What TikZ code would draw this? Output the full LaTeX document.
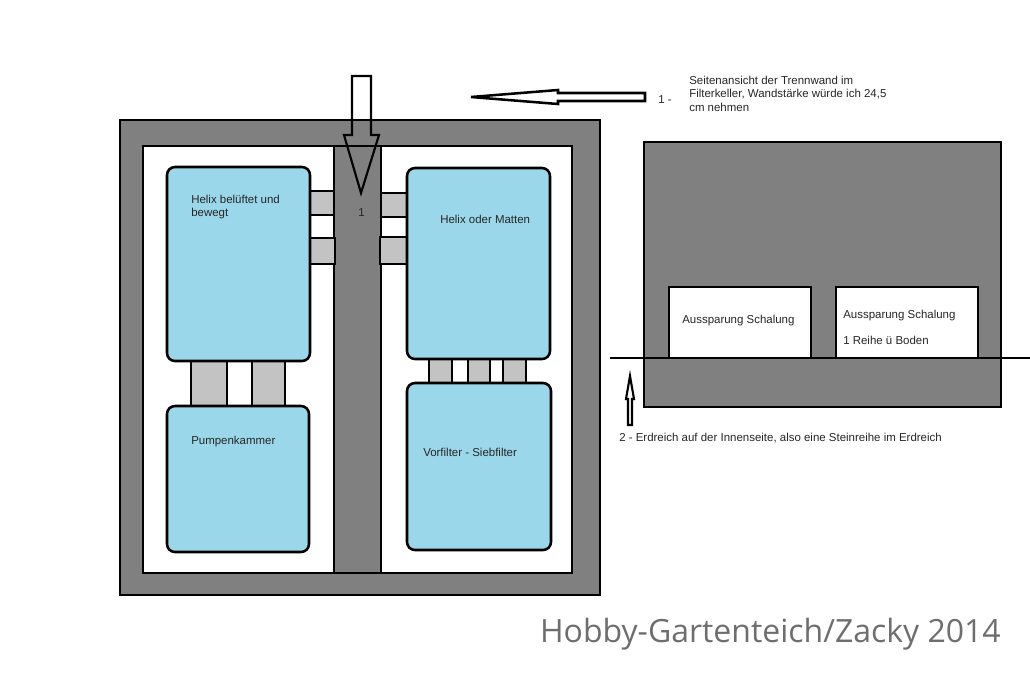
\documentclass[tikz,border=0pt]{standalone}
\usepackage{fontspec}
\setmainfont{Liberation Sans}
\newfontfamily\markfont{Open Sans}
\definecolor{wall}{HTML}{808080}
\definecolor{pipe}{HTML}{C3C3C3}
\definecolor{water}{HTML}{9BD7EA}
\definecolor{markgray}{HTML}{6E6E6E}
\begin{document}
\begin{tikzpicture}[
  x=0.75pt,y=-0.75pt,
  solid/.style={draw=black,line width=1.9pt,fill=#1},
  solid/.default=white,
  tank/.style={solid=water,rounded corners=6pt},
  blockarrow/.style={draw=black,line width=#1,line join=miter},
  blockarrow/.default=1.9pt,
  txt/.style={anchor=base west,inner sep=0pt,font=\fontsize{8.6}{10}\selectfont,text=black!85}
  ]
\useasboundingbox (0,0) rectangle (1030,683);
% top view
\draw[solid=wall] (120,120) rectangle (600,595);
\draw[solid]      (143,146) rectangle (572,573);
\draw[solid=wall] (334,146) rectangle (381,573);                   % partition
% pipes through the partition
\draw[solid=pipe] (310,191) rectangle (334,215);
\draw[solid=pipe] (310,238) rectangle (335,264);
\draw[solid=pipe] (381,193) rectangle (407,217);
\draw[solid=pipe] (380,237) rectangle (407,264);
% pipes between the chambers
\foreach \xa/\xb in {191/227,252/285}
  \draw[solid=pipe] (\xa,360) rectangle (\xb,406);
\foreach \xa/\xb in {429/452,468/490,503/526}
  \draw[solid=pipe] (\xa,358) rectangle (\xb,384);
% chambers
\draw[tank] (167,167) rectangle (310,361);
\draw[tank] (167,406) rectangle (309,552);
\draw[tank] (407,168) rectangle (550,359);
\draw[tank] (407,383) rectangle (551,550);
% arrow into the partition
\draw[blockarrow=1.6pt] (352,76) -- (371,76) -- (371,135) -- (379,135) -- (361,193)
  -- (344,135) -- (352,135) -- cycle;
\node[txt] (one) at (358,216) {1};
\node[txt] (chamberA) at (191,203) {Helix belüftet und};
\node[txt] (chamberAb) at (191,216) {bewegt};
\node[txt] (chamberB) at (440,223) {Helix oder Matten};
\node[txt] (chamberC) at (191,444) {Pumpenkammer};
\node[txt] (chamberD) at (423,456) {Vorfilter - Siebfilter};
% side view
\draw[solid=wall] (644,142) rectangle (1001,407);
\draw[solid] (669,287) rectangle (811,358);
\draw[solid] (836,287) rectangle (978,358);
\draw[line width=1.5pt] (610,358) -- (1030,358);                   % ground
\node[txt] (gapA) at (682,323) {Aussparung Schalung};
\node[txt] (gapB) at (843,318) {Aussparung Schalung};
\node[txt] (gapBb) at (843,344) {1 Reihe ü Boden};
% notes
\draw[blockarrow] (645,93) -- (558,93) -- (558,90) -- (471,97) -- (558,104)
  -- (558,101) -- (645,101) -- cycle;
\draw[blockarrow=1.6pt] (628,425) -- (628,399) -- (626,399) -- (630,376) -- (634,399)
  -- (632,399) -- (632,425) -- cycle;
\node[txt] (noteOne) at (658,103) {1 -};
\node[txt] (noteA) at (689,84) {Seitenansicht der Trennwand im};
\node[txt] (noteB) at (689,97) {Filterkeller, Wandstärke würde ich 24,5};
\node[txt] (noteC) at (689,111) {cm nehmen};
\node[txt] (noteTwo) at (619,441) {2 - Erdreich auf der Innenseite, also eine Steinreihe im Erdreich};
\node[anchor=base east,inner sep=0pt,font=\markfont\fontsize{24}{30}\selectfont,text=markgray] (mark) at (1001,642) {Hobby-Gartenteich/Zacky 2014};
\end{tikzpicture}
\end{document}
